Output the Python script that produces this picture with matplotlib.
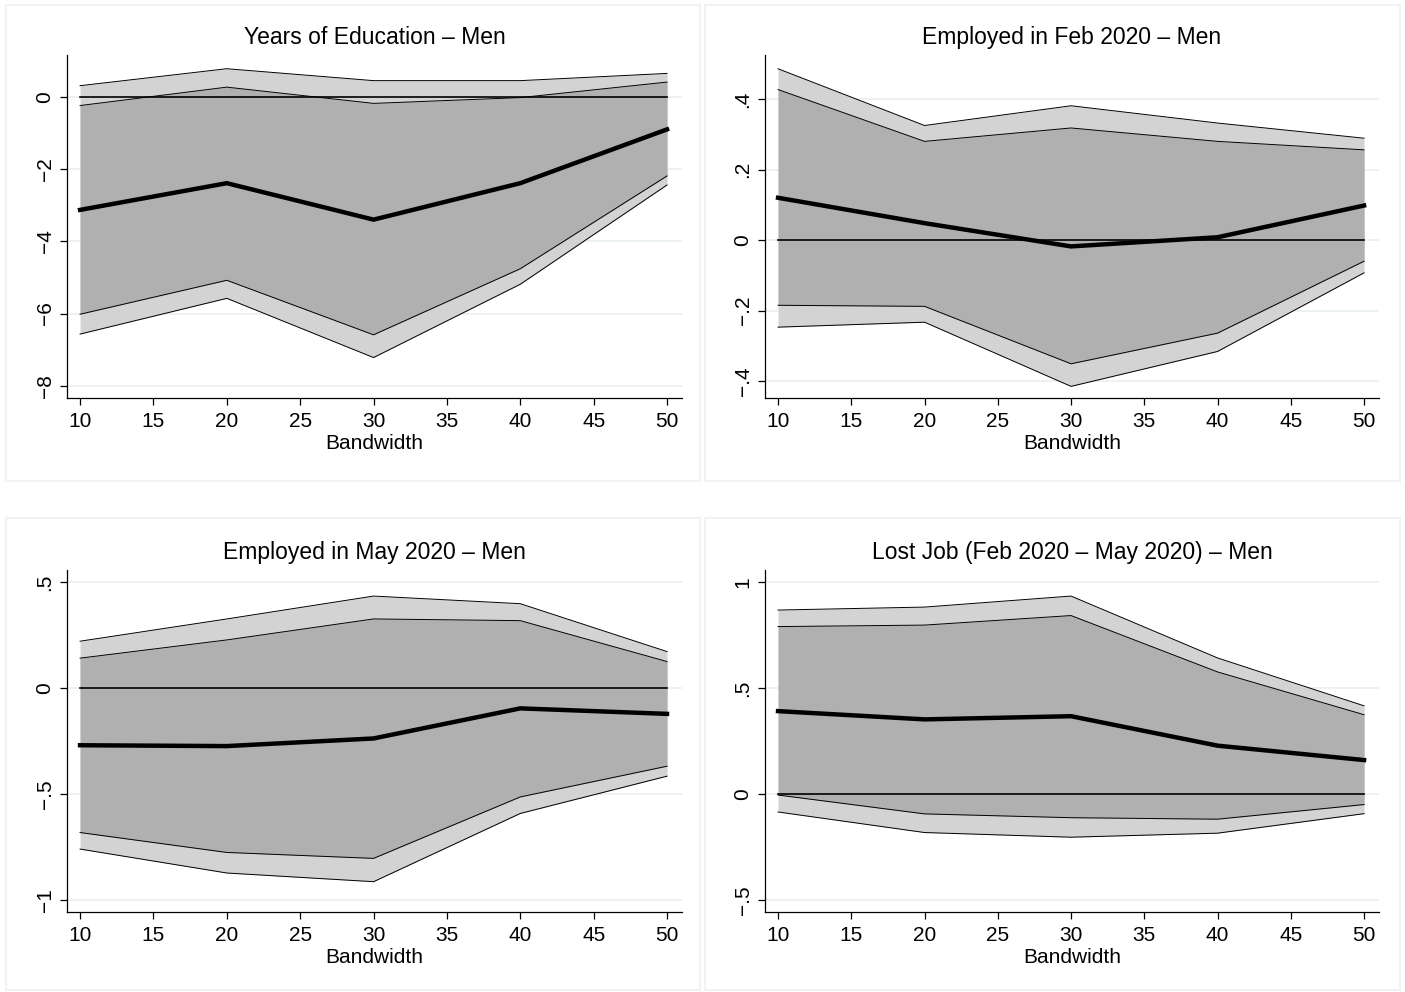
import numpy as np
import matplotlib
matplotlib.use("Agg")
import matplotlib.pyplot as plt
from matplotlib.patches import Rectangle

plt.rcParams["font.family"] = ["Liberation Sans", "DejaVu Sans"]

# === Data ===
bandwidth = [10, 20, 30, 40, 50]

titles = [
    "Years of Education \u2013 Men",
    "Employed in Feb 2020 \u2013 Men",
    "Employed in May 2020 \u2013 Men",
    "Lost Job (Feb 2020 \u2013 May 2020) \u2013 Men",
]

# panel 1: years of education
edu_est = [-3.13, -2.39, -3.40, -2.39, -0.90]
edu_lo90 = [-6.02, -5.08, -6.59, -4.76, -2.19]
edu_hi90 = [-0.24, 0.27, -0.18, -0.02, 0.41]
edu_lo95 = [-6.57, -5.58, -7.22, -5.19, -2.44]
edu_hi95 = [0.31, 0.78, 0.45, 0.45, 0.65]

# panel 2: employed in Feb 2020
feb_est = [0.120, 0.048, -0.018, 0.008, 0.098]
feb_lo90 = [-0.185, -0.188, -0.351, -0.264, -0.060]
feb_hi90 = [0.427, 0.280, 0.318, 0.280, 0.256]
feb_lo95 = [-0.247, -0.233, -0.415, -0.316, -0.093]
feb_hi95 = [0.486, 0.325, 0.381, 0.332, 0.289]

# panel 3: employed in May 2020
may_est = [-0.270, -0.274, -0.238, -0.096, -0.122]
may_lo90 = [-0.682, -0.776, -0.804, -0.514, -0.369]
may_hi90 = [0.141, 0.227, 0.326, 0.318, 0.125]
may_lo95 = [-0.760, -0.873, -0.914, -0.592, -0.416]
may_hi95 = [0.221, 0.326, 0.434, 0.398, 0.172]

# panel 4: lost job
lost_est = [0.391, 0.352, 0.367, 0.228, 0.160]
lost_lo90 = [-0.005, -0.094, -0.112, -0.119, -0.050]
lost_hi90 = [0.790, 0.797, 0.842, 0.576, 0.374]
lost_lo95 = [-0.085, -0.182, -0.204, -0.185, -0.093]
lost_hi95 = [0.868, 0.882, 0.934, 0.642, 0.416]

yticks = [
    [0, -2, -4, -6, -8],
    [0.4, 0.2, 0, -0.2, -0.4],
    [0.5, 0, -0.5, -1],
    [1, 0.5, 0, -0.5],
]
ytick_labels = [
    ["0", "\u22122", "\u22124", "\u22126", "\u22128"],
    [".4", ".2", "0", "\u2212.2", "\u2212.4"],
    [".5", "0", "\u2212.5", "\u22121"],
    ["1", ".5", "0", "\u2212.5"],
]
ylims = [(-8.34, 1.16), (-0.448, 0.525), (-1.057, 0.557), (-0.557, 1.057)]

series = [
    (edu_est, edu_lo90, edu_hi90, edu_lo95, edu_hi95),
    (feb_est, feb_lo90, feb_hi90, feb_lo95, feb_hi95),
    (may_est, may_lo90, may_hi90, may_lo95, may_hi95),
    (lost_est, lost_lo90, lost_hi90, lost_lo95, lost_hi95),
]

OUTER = "#d3d3d3"
INNER = "#b0b0b0"
GRID = "#e9f0f1"
BORDER = "#f0f3f3"

W, H = 1405, 992
fig = plt.figure(figsize=(W / 100, H / 100), dpi=100)
fig.patch.set_facecolor("white")

# panel frames (pixels: x0, y0 top, x1, y1 bottom)
frames = [(6, 5, 700, 481), (705, 5, 1400, 481), (6, 518, 700, 990), (705, 518, 1400, 990)]
for x0, y0, x1, y1 in frames:
    fig.patches.append(Rectangle((x0 / W, 1 - y1 / H), (x1 - x0) / W, (y1 - y0) / H,
                                 transform=fig.transFigure, fill=False,
                                 edgecolor=BORDER, linewidth=1.5))

# axes boxes in pixels: left, top, right, bottom
boxes = [(67, 55, 682, 398), (765, 55, 1379, 398), (67, 570, 682, 912), (765, 570, 1379, 912)]

x = np.array(bandwidth)
for i, (box, (est, lo90, hi90, lo95, hi95)) in enumerate(zip(boxes, series)):
    l, t, r, b = box
    ax = fig.add_axes([l / W, 1 - b / H, (r - l) / W, (b - t) / H])
    ax.set_xlim(9.11, 51.02)
    ax.set_ylim(*ylims[i])

    for yt in yticks[i]:
        ax.axhline(yt, color=GRID, linewidth=1.2, zorder=0)

    ax.fill_between(x, lo95, hi95, color=OUTER, linewidth=0, zorder=1)
    ax.fill_between(x, lo90, hi90, color=INNER, linewidth=0, zorder=2)
    for s in (lo95, hi95, lo90, hi90):
        ax.plot(x, s, color="black", linewidth=0.7, zorder=3)
    ax.plot([10, 50], [0, 0], color="black", linewidth=1.2, zorder=4)
    ax.plot(x, est, color="black", linewidth=3.2, zorder=5, solid_joinstyle="miter")

    ax.set_xticks(range(10, 51, 5))
    ax.set_yticks(yticks[i])
    ax.set_yticklabels(ytick_labels[i], rotation=90, va="center")
    ax.tick_params(axis="both", direction="out", length=5, width=0.9, labelsize=15, colors="black")
    ax.tick_params(axis="x", pad=5)
    ax.tick_params(axis="y", pad=4)
    for side in ("top", "right"):
        ax.spines[side].set_visible(False)
    for side in ("left", "bottom"):
        ax.spines[side].set_linewidth(0.9)
    ax.set_facecolor("none")
    ax.set_xlabel("Bandwidth", fontsize=15, labelpad=2)
    ax.set_title(titles[i], fontsize=16.5, pad=8)

fig.savefig("out.png", dpi=100)
